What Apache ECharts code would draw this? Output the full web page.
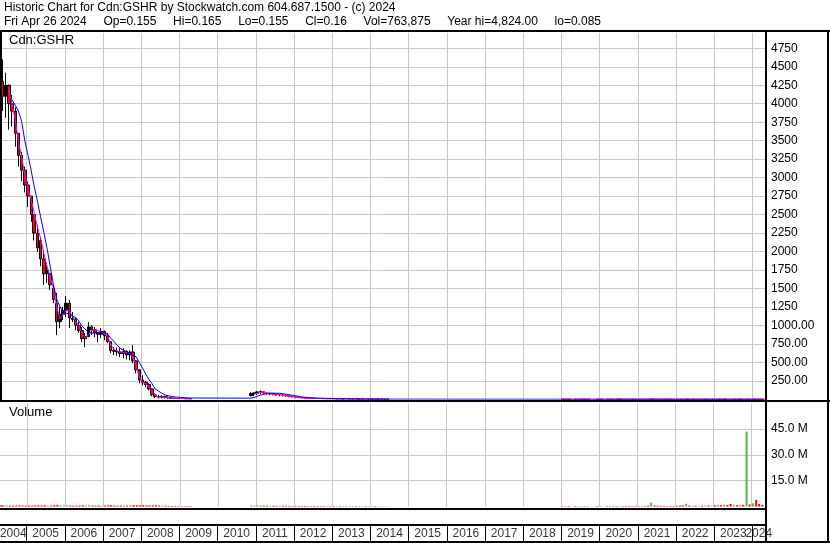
<!DOCTYPE html>
<html><head><meta charset="utf-8">
<script src="https://cdn.jsdelivr.net/npm/echarts@6/dist/echarts.min.js"></script>
<style>html,body{margin:0;padding:0;background:#fff}#c{width:830px;height:543px}</style>
</head><body><div id="c"></div>
<script>
// ---------- texts ----------
const titleLine1 = 'Historic Chart for Cdn:GSHR by Stockwatch.com 604.687.1500 - (c) 2024';
const titleLine2 = 'Fri Apr 26 2024     Op=0.155     Hi=0.165     Lo=0.155     Cl=0.16     Vol=763,875     Year hi=4,824.00     lo=0.085';
const symbolLabel = 'Cdn:GSHR';
const volumeLabel = 'Volume';
const yearLabels = ['2004','2005','2006','2007','2008','2009','2010','2011','2012','2013','2014','2015','2016','2017','2018','2019','2020','2021','2022','2023','2024'];

// ---------- segment A: 2004-04 .. 2009-04 ----------
const datesA = ['2004-04-26','2004-05-15','2004-06-15','2004-07-15','2004-08-15','2004-09-15','2004-10-15','2004-11-15','2004-12-15',
'2005-01-15','2005-02-15','2005-03-15','2005-04-15','2005-05-15','2005-06-15','2005-07-15','2005-08-15','2005-09-15','2005-10-15','2005-11-15','2005-12-15',
'2006-01-15','2006-02-15','2006-03-15','2006-04-15','2006-05-15','2006-06-15','2006-07-15','2006-08-15','2006-09-15','2006-10-15','2006-11-15','2006-12-15',
'2007-01-15','2007-02-15','2007-03-15','2007-04-15','2007-05-15','2007-06-15','2007-07-15','2007-08-15','2007-09-15','2007-10-15','2007-11-15','2007-12-15',
'2008-01-15','2008-02-15','2008-03-15','2008-04-15','2008-05-15','2008-06-15','2008-07-15','2008-08-15','2008-09-15','2008-10-15','2008-11-15','2008-12-15',
'2009-01-15','2009-02-15','2009-03-15','2009-04-15'];
const opensA = [4500,4300,4100,4250,4000,3900,3600,3300,3100,
 2900,2750,2500,2250,2150,1900,1700,1700,1500,1300,1050,1150,
 1200,1300,1100,1080,1000,930,820,850,980,940,900,880,
 920,860,780,660,650,640,620,650,600,640,520,400,
 260,230,200,140,60,35,30,40,25,20,15,12,
 10,12,9,8];
const closesA = [4300,4100,4250,4000,3900,3600,3300,3100,2900,
 2750,2500,2250,2050,1900,1700,1750,1550,1350,1050,1150,1200,
 1300,1100,1080,1000,930,820,850,980,940,900,880,920,
 860,780,660,650,640,620,650,600,640,520,400,260,
 230,200,140,60,35,30,40,25,20,15,12,10,
 12,9,8,7];
const lowsA = [4000,3900,3810,3650,3690,3420,3150,2950,2800,
 2600,2400,2150,1995,1800,1550,1575,1480,1300,868,963,1070,
 1112,963,1045,936,900,773,705,840,870,840,773,827,
 800,760,624,597,590,570,556,540,529,488,353,217,
 190,160,122,40,15,10,12,10,8,5,5,5,
 5,4,4,4];
const highsA = [4824,4600,4420,4260,4120,3950,3600,3350,3150,
 2950,2750,2500,2360,2200,2020,1845,1710,1550,1440,1250,1250,
 1397,1343,1180,1112,1050,977,895,1045,1000,977,909,963,
 930,895,790,705,700,692,692,665,665,733,529,400,
 325,250,217,150,80,60,54,45,40,30,25,20,
 20,18,15,15];
const volumesA = [0.8,0.6,0.7,0.6,0.5,0.6,0.7,0.6,0.5,
 0.6,0.5,0.6,0.7,0.6,0.8,0.5,0.6,0.7,1.0,0.6,0.5,
 0.7,0.6,0.5,0.5,0.6,0.7,0.5,0.8,0.6,0.5,0.6,0.5,
 0.6,0.7,0.8,0.6,0.5,0.6,0.5,0.6,0.7,0.9,0.8,0.7,
 0.8,0.7,0.6,0.7,0.8,0.6,0.5,0.5,0.4,0.4,0.4,0.3,
 0.3,0.3,0.3,0.3];
const maShortA = [null,null,null,4200,3990,3790,3480,3280,3040,
 2850,2700,2520,2330,2180,1980,1800,1650,1500,1260,1090,1140,
 1210,1200,1120,1065,990,905,830,870,935,936,930,910,
 890,860,740,680,655,638,638,635,624,570,455,300,
 231,205,175,110,55,30,30,28,22,18,14,12,
 11,10,9,9];
const maLongA = [null,null,null,null,4050,3980,3900,3760,3500,
 3300,3090,2880,2680,2470,2260,2050,1800,1550,1360,1260,1180,
 1165,1155,1130,1105,1060,990,950,905,895,900,905,905,
 900,885,830,785,735,690,665,640,615,595,575,500,
 420,340,270,210,140,110,85,60,48,40,33,28,
 25,22,20,18];

// ---------- segment B: 2010-11 .. 2014-06 ----------
const datesB = ['2010-11-15','2010-12-15',
'2011-01-15','2011-02-15','2011-03-15','2011-04-15','2011-05-15','2011-06-15','2011-07-15','2011-08-15','2011-09-15','2011-10-15','2011-11-15','2011-12-15',
'2012-01-15','2012-02-15','2012-03-15','2012-04-15','2012-05-15','2012-06-15','2012-07-15','2012-08-15','2012-09-15','2012-10-15','2012-11-15','2012-12-15',
'2013-01-15','2013-02-15','2013-03-15','2013-04-15','2013-05-15','2013-06-15','2013-07-15','2013-08-15','2013-09-15','2013-10-15','2013-11-15','2013-12-15',
'2014-01-15','2014-02-15','2014-03-15','2014-04-15','2014-05-15','2014-06-15'];
const opensB = [50,80, 85,100,105,80,75,80,70,60,65,55,45,40, 35,30,25,20,18,15,14,12,11,10,9,9, 8,7,7,6,6,5,5,5,4,4,4,3, 3,3,2,2,2,2];
const closesB = [80,85, 100,105,80,75,80,70,60,65,55,45,40,35, 30,25,20,18,15,14,12,11,10,9,9,8, 7,7,6,6,5,5,5,4,4,4,3,3, 3,2,2,2,2,2];
const lowsB = [40,45, 60,70,65,60,55,50,45,40,35,30,25,20, 15,12,10,8,8,6,5,5,4,4,3,3, 3,3,3,2,2,2,2,2,2,2,1,1, 1,1,1,1,1,1];
const highsB = [95,95, 110,122,110,95,90,85,80,75,70,65,55,50, 45,40,35,30,25,22,20,18,16,14,12,12, 11,10,9,9,8,8,7,7,6,6,5,5, 5,4,4,3,3,3];
const volumesB = [0.6,0.5, 0.7,0.6,0.5,0.5,0.4,0.5,0.4,0.4,0.5,0.4,0.4,0.3, 0.4,0.4,0.3,0.4,0.3,0.3,0.4,0.3,0.3,0.3,0.4,0.3, 0.3,0.4,0.3,0.3,0.3,0.3,0.4,0.3,0.3,0.3,0.3,0.3, 0.3,0.3,0.3,0.3,0.2,0.2];
const maShortB = [null,65, 82,92,95,88,84,80,72,66,60,54,45,36, 28,24,20,17,14,13,12,11,10,9,9,8, 8,7,7,6,6,5,5,4,4,4,3,3, 3,3,2,2,2,2];
const maLongB = [15,25, 40,55,68,75,80,82,82,81,76,70,62,54, 47,40,33,27,23,20,18,16,15,14,13,12, 11,10,9,8,7,6,6,5,5,4,4,4, 3,3,3,3,2,2];

// ---------- segment C: 2019-01 .. 2024-04 ----------
const datesC = ['2019-01-15','2019-02-15','2019-03-15','2019-04-15','2019-05-15','2019-06-15','2019-07-15','2019-08-15','2019-09-15','2019-10-15','2019-11-15','2019-12-15',
'2020-01-15','2020-02-15','2020-03-15','2020-04-15','2020-05-15','2020-06-15','2020-07-15','2020-08-15','2020-09-15','2020-10-15','2020-11-15','2020-12-15',
'2021-01-15','2021-02-15','2021-03-15','2021-04-15','2021-05-15','2021-06-15','2021-07-15','2021-08-15','2021-09-15','2021-10-15','2021-11-15','2021-12-15',
'2022-01-15','2022-02-15','2022-03-15','2022-04-15','2022-05-15','2022-06-15','2022-07-15','2022-08-15','2022-09-15','2022-10-15','2022-11-15','2022-12-15',
'2023-01-15','2023-02-15','2023-03-15','2023-04-15','2023-05-15','2023-06-15','2023-07-15','2023-08-15','2023-09-15','2023-10-15','2023-11-15','2023-12-15',
'2024-01-15','2024-02-15','2024-03-15','2024-04-15'];
const opensC = [0.50,0.48,0.46,null,0.45,0.44,0.43,0.42,0.41,null,null,0.40,
 0.39,null,0.38,0.36,0.37,0.36,0.35,0.36,0.35,0.34,0.33,0.32,
 0.31,0.30,0.29,0.28,0.27,0.30,0.29,0.28,0.27,0.26,0.25,0.24,
 0.23,0.22,0.21,0.20,0.22,0.21,0.21,0.20,0.20,0.19,0.19,0.18,
 0.18,0.17,0.17,0.16,0.17,0.16,0.15,0.15,0.14,0.14,0.13,0.15,
 0.14,0.17,0.16,0.165];
const closesC = [0.48,0.46,0.45,null,0.44,0.43,0.42,0.41,0.40,null,null,0.39,
 0.38,null,0.36,0.37,0.36,0.35,0.36,0.35,0.34,0.33,0.32,0.31,
 0.30,0.29,0.28,0.27,0.31,0.29,0.28,0.27,0.26,0.25,0.24,0.23,
 0.22,0.21,0.20,0.22,0.21,0.21,0.20,0.20,0.19,0.19,0.18,0.18,
 0.17,0.17,0.16,0.17,0.16,0.15,0.15,0.14,0.14,0.13,0.15,0.14,
 0.17,0.16,0.155,0.16];
const lowsC = [0.46,0.45,0.44,null,0.43,0.42,0.41,0.40,0.39,null,null,0.38,
 0.37,null,0.35,0.35,0.35,0.34,0.34,0.34,0.33,0.32,0.31,0.30,
 0.29,0.28,0.27,0.26,0.26,0.28,0.27,0.26,0.25,0.24,0.23,0.22,
 0.21,0.20,0.19,0.19,0.20,0.20,0.19,0.19,0.18,0.18,0.17,0.17,
 0.16,0.16,0.15,0.15,0.15,0.14,0.14,0.13,0.13,0.12,0.12,0.13,
 0.13,0.15,0.15,0.155];
const highsC = [0.51,0.49,0.47,null,0.46,0.45,0.44,0.43,0.42,null,null,0.41,
 0.40,null,0.39,0.38,0.38,0.37,0.37,0.37,0.36,0.35,0.34,0.33,
 0.32,0.31,0.30,0.29,0.33,0.31,0.30,0.29,0.28,0.27,0.26,0.25,
 0.24,0.23,0.22,0.23,0.23,0.22,0.22,0.21,0.21,0.20,0.20,0.19,
 0.19,0.18,0.18,0.18,0.18,0.17,0.16,0.16,0.15,0.15,0.16,0.16,
 0.18,0.18,0.17,0.165];
const volumesC = [0.3,0.25,0.3,null,0.3,0.2,0.2,0.25,0.2,null,null,0.3,
 0.2,null,0.3,0.4,0.3,0.3,0.4,0.3,0.3,0.4,0.3,0.4,
 0.3,0.2,0.3,0.5,2.3,0.6,0.5,0.4,0.4,0.3,0.4,0.3,
 0.5,0.6,0.7,1.6,0.6,0.5,0.5,0.4,0.5,0.6,0.6,0.5,
 0.7,0.9,0.8,1.0,0.9,1.5,1.1,0.8,0.9,1.0,43.5,1.2,
 1.9,3.8,1.5,1.0];
const maShortC = [null,0.48,0.46,0.45,0.44,0.44,0.43,0.42,0.41,0.41,0.40,0.40,
 0.39,0.38,0.37,0.37,0.36,0.36,0.36,0.35,0.35,0.34,0.33,0.32,
 0.31,0.30,0.29,0.28,0.29,0.29,0.28,0.27,0.26,0.25,0.24,0.23,
 0.22,0.21,0.21,0.21,0.21,0.21,0.20,0.20,0.19,0.19,0.18,0.18,
 0.17,0.17,0.16,0.16,0.16,0.15,0.15,0.14,0.14,0.13,0.14,0.14,
 0.15,0.16,0.16,0.16];
const maLongC = [0.9,0.8,0.7,0.6,0.55,0.5,0.48,0.46,0.45,0.44,0.43,0.42,
 0.41,0.40,0.39,0.38,0.37,0.37,0.36,0.36,0.35,0.35,0.34,0.33,
 0.32,0.31,0.30,0.29,0.29,0.29,0.29,0.28,0.27,0.27,0.26,0.25,
 0.24,0.23,0.22,0.21,0.21,0.21,0.21,0.20,0.20,0.20,0.19,0.19,
 0.18,0.18,0.17,0.17,0.17,0.16,0.16,0.15,0.15,0.14,0.14,0.14,
 0.15,0.16,0.16,0.16];

// ---------- assemble ----------
const dates = datesA.concat(datesB, datesC);
const opens = opensA.concat(opensB, opensC);
const closes = closesA.concat(closesB, closesC);
const lows = lowsA.concat(lowsB, lowsC);
const highs = highsA.concat(highsB, highsC);
const volumes = volumesA.concat(volumesB, volumesC);
const maLong = maLongA.concat(maLongB, maLongC);
const nA = datesA.length;

const UP = '#000000', DOWN = '#ff0000', VUP = '#4cb84c', VDOWN = '#ff0000', VFLAT = '#a0a0a0';
const candleData = dates.map((d, i) => {
  if (opens[i] == null) return [d, '-', '-', '-', '-'];
  const item = {value: [d, opens[i], closes[i], lows[i], highs[i]]};
  // later, near-zero segments: bars drawn fully in their own colour
  if (i >= nA) item.itemStyle = {borderColor0: DOWN};
  return item;
});
const volData = dates.map((d, i) => {
  if (volumes[i] == null) return {value: [d, '-']};
  const col = closes[i] > opens[i] ? VUP : (closes[i] < opens[i] ? VDOWN : VFLAT);
  return {value: [d, volumes[i] * 1e6], itemStyle: {color: col}};
});
function seg(ds, vs) { return ds.map((d, i) => [d, vs[i] == null ? '-' : vs[i]]); }
const maShortData = seg(datesA, maShortA).concat([[datesA[datesA.length-1], '-']], seg(datesB, maShortB), [[datesB[datesB.length-1], '-']], seg(datesC, maShortC));
const maLongData = dates.map((d, i) => [d, maLong[i] == null ? '-' : maLong[i]]).filter(p => p[1] !== '-');

const DAY = 864e5;
const xMinT = new Date(2004, 3, 22).getTime();
const xMaxT = new Date(2024, 3, 30).getTime();
const yearLabelData = yearLabels.map(y => {
  const s = Math.max(xMinT, new Date(+y, 0, 1).getTime());
  const e = Math.min(xMaxT, new Date(+y + 1, 0, 1).getTime());
  return {name: y, value: [(s + e) / 2, 0.5]};
});

const FONT = '"Liberation Sans", Arial, sans-serif';
function xAx(gi, col) {
  return {type: 'time', gridIndex: gi, min: xMinT, max: xMaxT, splitNumber: 20,
    minInterval: 365 * DAY, maxInterval: 366 * DAY,
    axisLine: {show: false}, axisTick: {show: false}, axisLabel: {show: false},
    splitLine: {show: true, showMinLine: false, showMaxLine: false, lineStyle: {color: col, width: 1}}};
}
const GREY = '#c8c8c8';

const chart = echarts.init(document.getElementById('c'), null, {renderer: 'canvas'});
chart.setOption({
  animation: false,
  backgroundColor: '#fff',
  grid: [
    {left: 0, top: 33, width: 765, height: 366.3},
    {left: 0, top: 403.5, width: 765, height: 103.05},
    {left: 0, top: 525, width: 765, height: 17}
  ],
  xAxis: [xAx(0, GREY), xAx(1, GREY), xAx(2, '#000')],
  yAxis: [
    {type: 'value', gridIndex: 0, position: 'right', min: 0, max: 4957, interval: 250,
     axisLine: {show: false}, axisTick: {show: false},
     splitLine: {show: true, showMinLine: false, showMaxLine: false, lineStyle: {color: GREY, width: 1}},
     axisLabel: {show: true, margin: 6, color: '#000', fontSize: 12, fontFamily: FONT, align: 'left',
       showMinLabel: false, showMaxLabel: false,
       formatter: v => v >= 1250 ? String(v) : v.toFixed(2)}},
    {type: 'value', gridIndex: 1, position: 'right', min: 0, max: 59.8e6, interval: 15e6,
     axisLine: {show: false}, axisTick: {show: false},
     splitLine: {show: true, showMinLine: false, showMaxLine: false, lineStyle: {color: GREY, width: 1}},
     axisLabel: {show: true, margin: 6, color: '#000', fontSize: 12, fontFamily: FONT, align: 'left',
       showMinLabel: false, showMaxLabel: false,
       formatter: v => (v / 1e6).toFixed(1) + ' M'}},
    {type: 'value', gridIndex: 2, min: 0, max: 1, show: false}
  ],
  series: [
    {type: 'candlestick', xAxisIndex: 0, yAxisIndex: 0, barWidth: 3, encode: {x: 0, y: [1, 2, 3, 4]},
     itemStyle: {color: UP, color0: DOWN, borderColor: UP, borderColor0: UP, borderWidth: 1},
     data: candleData, z: 2},
    {type: 'line', xAxisIndex: 0, yAxisIndex: 0, symbol: 'none', data: maShortData, connectNulls: false,
     lineStyle: {color: '#ff00ff', width: 1}, z: 3},
    {type: 'line', xAxisIndex: 0, yAxisIndex: 0, symbol: 'none', data: maLongData,
     lineStyle: {color: '#0000ff', width: 1}, z: 4},
    {type: 'bar', xAxisIndex: 1, yAxisIndex: 1, barWidth: 2, data: volData},
    {type: 'scatter', xAxisIndex: 2, yAxisIndex: 2, symbolSize: 1, itemStyle: {color: 'rgba(0,0,0,0)'},
     data: yearLabelData,
     label: {show: true, position: 'inside', formatter: '{b}', color: '#000', fontSize: 12, fontFamily: FONT}}
  ],
  graphic: [
    {type: 'text', left: 4, top: 2, z: 100, style: {text: titleLine1, fill: '#000', font: '12px ' + FONT}},
    {type: 'text', left: 4, top: 16, z: 100, style: {text: titleLine2, fill: '#000', font: '12px ' + FONT}},
    {type: 'text', left: 9, top: 34, z: 100, style: {text: symbolLabel, fill: '#000', font: '13px ' + FONT}},
    {type: 'text', left: 9, top: 406, z: 100, style: {text: volumeLabel, fill: '#000', font: '13px ' + FONT}},
    {type: 'rect', z: 100, shape: {x: 0, y: 30, width: 830, height: 2}, style: {fill: '#000'}},
    {type: 'rect', z: 100, shape: {x: 0, y: 32, width: 2, height: 369}, style: {fill: '#000'}},
    {type: 'rect', z: 100, shape: {x: 0, y: 400, width: 830, height: 2}, style: {fill: '#000'}},
    {type: 'rect', z: 100, shape: {x: 765, y: 30, width: 2, height: 513}, style: {fill: '#000'}},
    {type: 'rect', z: 100, shape: {x: 827, y: 30, width: 2, height: 513}, style: {fill: '#000'}},
    {type: 'rect', z: 100, shape: {x: 0, y: 508, width: 767, height: 2}, style: {fill: '#000'}},
    {type: 'rect', z: 100, shape: {x: 0, y: 524, width: 767, height: 2}, style: {fill: '#000'}},
    {type: 'rect', z: 100, shape: {x: 0, y: 541, width: 830, height: 2}, style: {fill: '#000'}}
  ]
});
</script></body></html>
